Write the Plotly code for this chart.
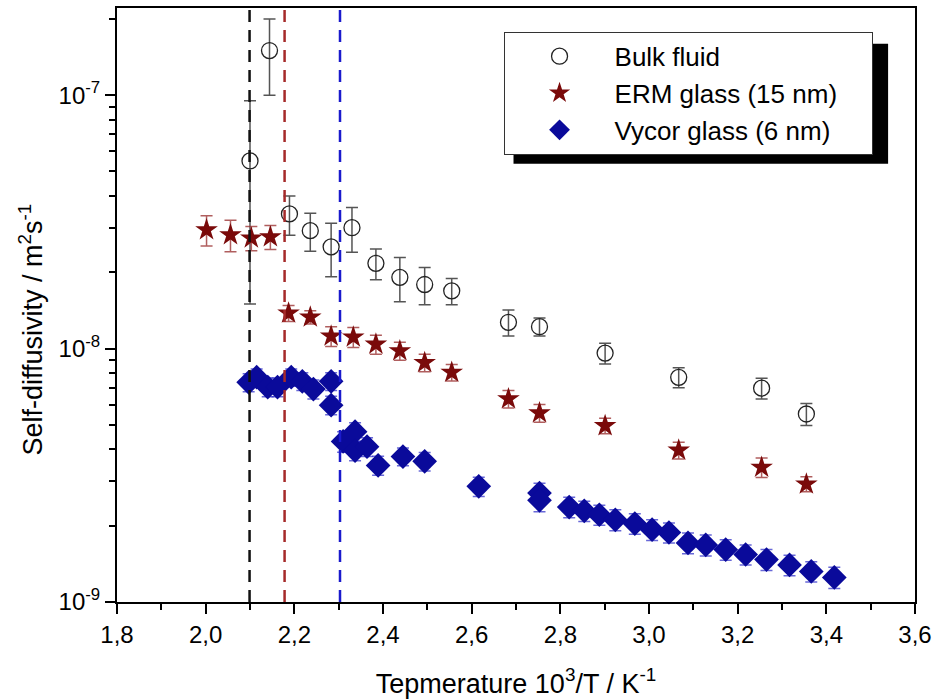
import plotly.graph_objects as go

# ---------------- data ----------------
bulk_x = [2.100, 2.144, 2.189, 2.236, 2.283, 2.330, 2.384, 2.438, 2.494, 2.555,
          2.683, 2.753, 2.901, 3.067, 3.254, 3.355]
bulk_y = [5.5e-8, 1.5e-7, 3.4e-8, 2.92e-8, 2.52e-8, 3.0e-8, 2.17e-8, 1.91e-8, 1.79e-8, 1.69e-8,
          1.27e-8, 1.22e-8, 9.6e-9, 7.7e-9, 6.98e-9, 5.52e-9]
bulk_err = [4.0e-8, 5.0e-8, 0.6e-8, 0.5e-8, 0.6e-8, 0.6e-8, 0.3e-8, 0.38e-8, 0.3e-8, 0.2e-8,
            0.15e-8, 0.1e-8, 0.9e-9, 0.7e-9, 0.65e-9, 0.55e-9]

erm_x = [2.002, 2.056, 2.103, 2.146, 2.187, 2.236, 2.283, 2.333, 2.384, 2.438,
         2.494, 2.555, 2.683, 2.753, 2.901, 3.067, 3.254, 3.355]
erm_y = [2.94e-8, 2.81e-8, 2.73e-8, 2.76e-8, 1.38e-8, 1.33e-8, 1.12e-8, 1.11e-8, 1.04e-8, 9.8e-9,
         8.8e-9, 8.05e-9, 6.33e-9, 5.57e-9, 4.96e-9, 3.97e-9, 3.40e-9, 2.92e-9]
erm_err = [0.4e-8, 0.4e-8, 0.3e-8, 0.3e-8, 0.1e-8, 0.08e-8, 0.1e-8, 0.1e-8, 0.09e-8, 0.08e-8,
           0.07e-8, 0.06e-8, 0.5e-9, 0.45e-9, 0.35e-9, 0.3e-9, 0.3e-9, 0.2e-9]

vycor_x = [2.097, 2.115, 2.140, 2.162, 2.193, 2.218, 2.243, 2.283, 2.283, 2.310,
           2.337, 2.337, 2.364, 2.389, 2.445, 2.494, 2.616, 2.753, 2.753, 2.820,
           2.854, 2.888, 2.924, 2.968, 3.007, 3.045, 3.088, 3.128, 3.173, 3.218,
           3.265, 3.317, 3.366, 3.418]
vycor_y = [7.36e-9, 7.71e-9, 7.05e-9, 7.05e-9, 7.71e-9, 7.43e-9, 6.92e-9, 7.43e-9, 5.98e-9, 4.30e-9,
           4.70e-9, 3.96e-9, 4.10e-9, 3.46e-9, 3.75e-9, 3.59e-9, 2.86e-9, 2.69e-9, 2.52e-9, 2.37e-9,
           2.29e-9, 2.21e-9, 2.11e-9, 2.04e-9, 1.93e-9, 1.88e-9, 1.71e-9, 1.68e-9, 1.61e-9, 1.54e-9,
           1.47e-9, 1.40e-9, 1.32e-9, 1.25e-9]
vycor_err = [0.6e-9, 0.6e-9, 0.6e-9, 0.6e-9, 0.6e-9, 0.6e-9, 0.6e-9, 0.6e-9, 0.5e-9, 0.4e-9,
             0.4e-9, 0.35e-9, 0.35e-9, 0.3e-9, 0.3e-9, 0.3e-9, 0.25e-9, 0.25e-9, 0.25e-9, 0.22e-9,
             0.21e-9, 0.2e-9, 0.2e-9, 0.19e-9, 0.18e-9, 0.17e-9, 0.16e-9, 0.16e-9, 0.15e-9, 0.14e-9,
             0.14e-9, 0.13e-9, 0.12e-9, 0.12e-9]

vline_x = [2.099, 2.178, 2.303]
vline_colors = ["#111111", "#a52a2a", "#1a1acc"]

x_tickvals = [1.8, 2.0, 2.2, 2.4, 2.6, 2.8, 3.0, 3.2, 3.4, 3.6]
x_ticktext = ["1,8", "2,0", "2,2", "2,4", "2,6", "2,8", "3,0", "3,2", "3,4", "3,6"]
y_tickvals = [1e-9, 1e-8, 1e-7]
y_ticktext = ["10<sup>-9</sup>", "10<sup>-8</sup>", "10<sup>-7</sup>"]
y_minor = [m * 10.0 ** e for e in (-9, -8, -7) for m in range(2, 10)]

legend_names = ["Bulk fluid", "ERM glass (15 nm)\u00a0\u00a0\u00a0\u00a0", "Vycor glass (6 nm)"]

FONT = "Liberation Sans, Arial, Helvetica, sans-serif"

fig = go.Figure()

fig.add_trace(go.Scatter(
    x=bulk_x, y=bulk_y, mode="markers", name=legend_names[0],
    marker=dict(symbol="circle-open", size=16, color="#222222", line=dict(width=1.3)),
    error_y=dict(type="data", array=bulk_err, color="#555555", thickness=1.5, width=6),
))
fig.add_trace(go.Scatter(
    x=erm_x, y=erm_y, mode="markers", name=legend_names[1],
    marker=dict(symbol="star", size=17, color="#7a0a0a", line=dict(width=0)),
    error_y=dict(type="data", array=erm_err, color="rgba(150,40,40,0.75)", thickness=1.5, width=6),
))
fig.add_trace(go.Scatter(
    x=vycor_x, y=vycor_y, mode="markers", name=legend_names[2],
    marker=dict(symbol="diamond", size=19, color="#0a0a9a", line=dict(width=0)),
    error_y=dict(type="data", array=vycor_err, color="rgba(40,40,200,0.7)", thickness=1.5, width=6),
))

for xv, col in zip(vline_x, vline_colors):
    fig.add_shape(type="line", x0=xv, x1=xv, xref="x", y0=0, y1=1, yref="paper",
                  line=dict(color=col, width=2.5, dash="12px,8px"), layer="above")

# legend shadow (offset ~10 px right/down from the legend box)
fig.add_shape(type="rect", xref="paper", yref="paper",
              x0=(515 - 117) / 801, x1=(891 - 117) / 801,
              y0=(605 - 163) / 599, y1=(605 - 42) / 599,
              fillcolor="black", line=dict(width=0), layer="above")

fig.add_annotation(
    text="Self-diffusivity / m<sup>2</sup>s<sup>-1</sup>", textangle=-90,
    xref="paper", yref="paper", x=(31 - 117) / 801, y=(605 - 330) / 599,
    xanchor="center", yanchor="middle", showarrow=False,
    font=dict(size=27, family=FONT, color="black"),
)

fig.update_layout(
    width=938, height=700,
    margin=dict(l=117, r=20, t=6, b=95),
    paper_bgcolor="white", plot_bgcolor="white",
    font=dict(family=FONT, color="black", size=21),
    showlegend=True,
    legend=dict(x=(505 - 117) / 801, y=(605 - 30) / 599, xanchor="left", yanchor="top",
                bgcolor="white", bordercolor="#333333", borderwidth=1,
                font=dict(size=26, family=FONT),
                itemwidth=100, tracegroupgap=0),
    xaxis=dict(range=[1.8, 3.6], tickvals=x_tickvals, ticktext=x_ticktext,
               showline=True, linecolor="black", linewidth=2, mirror=True,
               ticks="outside", ticklen=10, tickwidth=2, tickcolor="black",
               minor=dict(dtick=0.1, tick0=1.8, ticks="outside", ticklen=6, tickwidth=2, tickcolor="black"),
               showgrid=False, zeroline=False,
               tickfont=dict(size=24, family=FONT),
               title=dict(text="Tepmerature 10<sup>3</sup>/T / K<sup>-1</sup>", font=dict(size=27), standoff=27)),
    yaxis=dict(type="log", range=[-9, -6.656], tickvals=y_tickvals, ticktext=y_ticktext,
               showline=True, linecolor="black", linewidth=2, mirror=True,
               ticks="outside", ticklen=10, tickwidth=2, tickcolor="black",
               minor=dict(tickvals=y_minor, ticks="outside", ticklen=6, tickwidth=2, tickcolor="black"),
               showgrid=False, zeroline=False,
               tickfont=dict(size=24, family=FONT)),
)

fig.write_html("out.html")
